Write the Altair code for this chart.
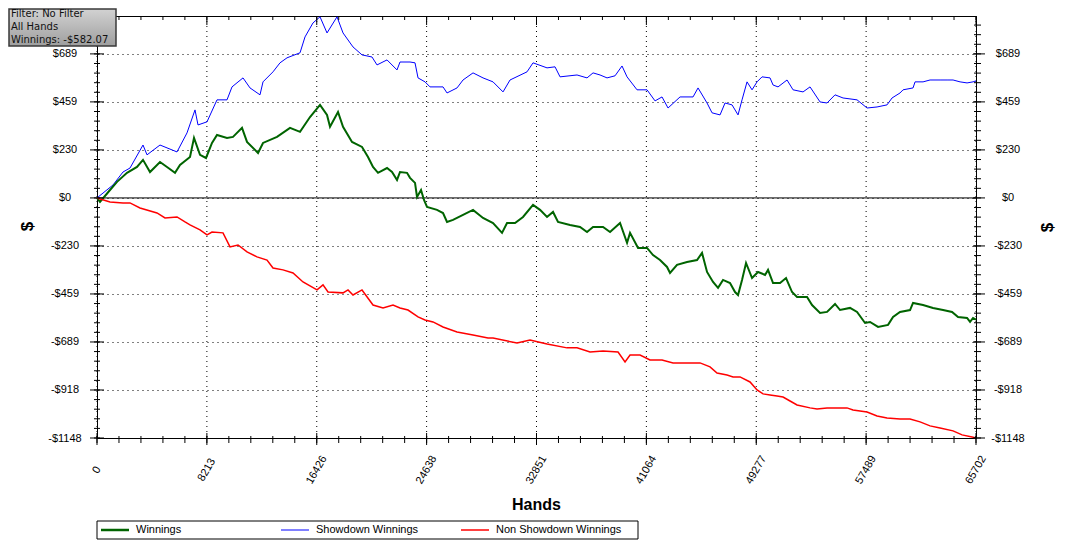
import altair as alt
import pandas as pd

# ---------------- data ----------------
sd_hands = [0, 1196, 1944, 2467, 3439, 3738, 4709, 5980, 6728, 7326, 7550, 8223, 8970, 9718, 10091,
            10914, 11437, 12184, 12409, 13156, 13679, 14203, 15175, 15548, 16146, 16669, 17193, 17940,
            18389, 19136, 19809, 20556, 20930, 21678, 22425, 22649, 23397, 23771, 23995, 24518, 24892,
            25864, 26163, 26910, 27359, 28106, 28854, 29601, 30349, 30872, 32143, 32592, 33638, 34236,
            34610, 35881, 36628, 37077, 37600, 38123, 38721, 39244, 39618, 40365, 41113, 41711, 42234,
            42683, 43580, 44552, 44925, 45598, 45972, 46570, 46944, 47467, 47915, 48214, 48588, 48962,
            49335, 49709, 50307, 50532, 50905, 51578, 52027, 52774, 53297, 54045, 54568, 55166, 55764,
            56811, 57559, 58307, 59052, 59426, 60024, 60249, 60996, 61146, 61744, 62267, 63015, 63538,
            63987, 64510, 65033, 65481, 65702]
sd_vals = [0, 62, 124, 143, 253, 206, 253, 220, 311, 421, 349, 364, 469, 469, 531,
           574, 526, 493, 555, 603, 646, 670, 694, 770, 837, 866, 789, 866,
           789, 722, 684, 674, 636, 660, 612, 650, 650, 646, 574, 555, 531,
           531, 502, 526, 564, 598, 574, 555, 507, 564, 603, 646, 622, 627,
           579, 588, 574, 598, 588, 574, 584, 631, 579, 517, 517, 464, 483,
           430, 483, 483, 526, 454, 407, 397, 454, 445, 397, 469, 555, 517,
           555, 579, 574, 540, 531, 564, 517, 507, 531, 459, 454, 493, 478,
           469, 430, 435, 445, 478, 502, 517, 526, 555, 555, 564, 564, 564,
           564, 555, 550, 555, 560]

win_hands = [0, 224, 972, 1495, 2243, 2990, 3439, 3962, 4709, 5233, 5831, 6204, 6952, 7251, 7700,
             8148, 8596, 8970, 9718, 10166, 10839, 11213, 12035, 12409, 13456, 14427, 15175, 15922,
             16669, 17193, 17417, 18015, 18389, 19062, 19809, 20257, 20631, 21005, 21678, 22052,
             22425, 22649, 23172, 23397, 23771, 23920, 24219, 24443, 24668, 25415, 25864, 26163,
             26611, 27359, 28106, 28854, 29601, 30274, 30648, 31246, 31844, 32592, 33115, 33638,
             34086, 34460, 35357, 36105, 36628, 37077, 37824, 38348, 39095, 39618, 39843, 40441,
             41113, 41561, 42084, 42608, 42832, 43355, 44103, 44850, 45224, 45598, 46047, 46420,
             46794, 47317, 47691, 47915, 48214, 48513, 48962, 49410, 49933, 50157, 50532, 51055,
             51503, 51952, 52326, 53073, 53447, 54045, 54568, 55166, 55540, 56287, 56811, 57409,
             57783, 58381, 59128, 59502, 60024, 60772, 60996, 61744, 62491, 63239, 63912, 64360,
             65033, 65257, 65481, 65702]
win_vals = [0, -19, 38, 77, 120, 148, 182, 124, 172, 148, 120, 158, 196, 287, 206,
            191, 263, 301, 287, 292, 335, 268, 215, 263, 292, 335, 316, 387,
            445, 397, 340, 411, 340, 268, 244, 196, 148, 120, 143, 124,
            86, 124, 120, 96, 72, 5, 38, -10, -43, -57, -72, -115,
            -105, -81, -57, -96, -120, -167, -120, -120, -91, -33, -57, -91,
            -67, -115, -129, -139, -163, -139, -139, -163, -120, -215, -167, -239,
            -239, -273, -297, -330, -359, -320, -306, -297, -263, -354, -402, -430,
            -392, -407, -450, -464, -392, -311, -383, -354, -368, -344, -407, -407,
            -383, -450, -474, -474, -512, -550, -545, -507, -536, -526, -545, -598,
            -593, -617, -607, -569, -545, -536, -502, -512, -526, -536, -545, -569,
            -574, -593, -574, -582]

nsd_hands = [0, 972, 1944, 2467, 3214, 4485, 5083, 5980, 6578, 6952, 7700, 8223, 8596, 9419, 9942,
             10540, 11213, 11960, 12708, 13156, 13904, 14651, 15399, 16445, 16894, 17268, 18389,
             18763, 19136, 19809, 20631, 21379, 22126, 22649, 23247, 23995, 24518, 25116, 25864,
             26910, 28106, 29227, 29601, 31395, 32367, 33638, 35133, 35881, 36853, 37824, 38946,
             39469, 39843, 40590, 41337, 42234, 43056, 44103, 45075, 45822, 46345, 47093, 47542,
             48065, 48812, 49335, 49784, 50307, 50830, 51279, 51802, 52326, 53297, 53820, 54568,
             55315, 56063, 56511, 57559, 58307, 59052, 60024, 60772, 61520, 62267, 63015, 63987,
             64660, 65407, 65702]
nsd_vals = [0, -19, -24, -24, -48, -72, -96, -91, -115, -129, -153, -177, -163, -167, -234,
            -225, -258, -282, -297, -335, -344, -359, -402, -440, -416, -450, -454,
            -440, -464, -440, -512, -526, -512, -526, -536, -569, -584, -593, -617,
            -641, -655, -670, -670, -694, -679, -698, -717, -717, -737, -732, -737,
            -784, -751, -751, -775, -775, -789, -789, -789, -808, -837, -847, -856,
            -856, -880, -918, -937, -942, -947, -952, -971, -990, -1004, -1009, -1004,
            -1004, -1004, -1014, -1024, -1043, -1052, -1057, -1057, -1071, -1090, -1100, -1114,
            -1133, -1143, -1148]

x_ticks = [0, 8213, 16426, 24638, 32851, 41064, 49277, 57489, 65702]
x_tick_labels = ["0", "8213", "16426", "24638", "32851", "41064", "49277", "57489", "65702"]
y_ticks = [-1148, -918.4, -688.8, -459.2, -229.6, 0, 229.6, 459.2, 688.8]
x_max = 65702
y_min, y_max = -1148, 870

series_names = ["Winnings", "Showdown Winnings", "Non Showdown Winnings"]
series_colors = ["#006400", "#0000ff", "#ff0000"]
series_widths = [2, 1, 1.5]

filter_lines = ["Filter: No Filter", "All Hands", "Winnings: -$582.07"]

# ---------------- layout constants ----------------
W, H = 879, 422
FONT = "Liberation Sans"

x_minor = [x_max * i / 40 for i in range(41)]
y_minor = [y_min + 45.92 * k for k in range(44) if y_min + 45.92 * k <= y_max]

x_scale = alt.Scale(domain=[0, x_max], nice=False, zero=False)
y_scale = alt.Scale(domain=[y_min, y_max], nice=False, zero=False)

label_expr = ("datum.value < 0 ? '-$' + format(-datum.value, '.0f') : "
              "'$' + format(datum.value, '.0f')")

y_left = alt.Axis(values=y_ticks, labelExpr=label_expr, orient="left", ticks=False, tickSize=0,
                  domain=False, grid=True, gridDash=[1, 4], gridColor="black", gridOpacity=1,
                  labelAlign="center", labelBaseline="middle", labelPadding=32.5,
                  labelFont=FONT, labelFontSize=11, labelColor="black", labelOverlap=False,
                  labelFlush=False, labelBound=False,
                  title="$", titleFont=FONT, titleFontSize=17, titleFontWeight="bold",
                  titleAngle=270, titleX=-70, titleY=210, titleAlign="center",
                  titleBaseline="middle")

y_right = alt.Axis(values=y_ticks, labelExpr=label_expr, orient="right", ticks=False, tickSize=0,
                   domain=False, grid=False,
                   labelAlign="center", labelBaseline="middle", labelPadding=31.5,
                   labelFont=FONT, labelFontSize=11, labelColor="black", labelOverlap=False,
                   labelFlush=False, labelBound=False,
                   title="$", titleFont=FONT, titleFontSize=17, titleFontWeight="bold",
                   titleAngle=270, titleX=71, titleY=211, titleAlign="center",
                   titleBaseline="middle")


def X(axis=None):
    return alt.X("hand:Q", scale=x_scale, axis=axis)


def Y(axis=None):
    return alt.Y("value:Q", scale=y_scale, axis=axis)


layers = []

# y axes carriers (invisible)
grid_df = pd.DataFrame({"hand": [0], "value": [0]})
layers.append(alt.Chart(grid_df).mark_point(opacity=0).encode(x=X(), y=Y(y_left)))
layers.append(alt.Chart(grid_df).mark_point(opacity=0).encode(x=X(), y=Y(y_right)))

# vertical dotted grid + x labels + x title
xmaj = pd.DataFrame({"hand": x_ticks, "label": x_tick_labels})
layers.append(alt.Chart(xmaj).mark_rule(color="black", strokeWidth=1, strokeDash=[1, 4])
              .encode(x=X(), y=alt.value(0), y2=alt.value(H)))
layers.append(alt.Chart(xmaj).mark_text(angle=300, align="center", baseline="middle", font=FONT,
                                        fontSize=11, color="black")
              .encode(x=X(), y=alt.value(H + 32), text="label:N"))
one = pd.DataFrame({"a": [0]})
layers.append(alt.Chart(one).mark_text(text="Hands", align="center", baseline="middle", font=FONT,
                                       fontSize=16, fontWeight="bold", color="black")
              .encode(x=alt.value(W / 2), y=alt.value(489)))

# zero line
layers.append(alt.Chart(pd.DataFrame({"value": [0]})).mark_rule(color="black", strokeWidth=1)
              .encode(y=Y(), x=alt.value(0), x2=alt.value(W)))

# series lines
data_sets = {
    "Showdown Winnings": (sd_hands, sd_vals),
    "Winnings": (win_hands, win_vals),
    "Non Showdown Winnings": (nsd_hands, nsd_vals),
}
for name in ["Showdown Winnings", "Winnings", "Non Showdown Winnings"]:
    i = series_names.index(name)
    hs, vs = data_sets[name]
    df = pd.DataFrame({"hand": hs, "value": vs})
    layers.append(alt.Chart(df).mark_line(color=series_colors[i], strokeWidth=series_widths[i])
                  .encode(x=X(), y=Y()))

# manual ticks
ymaj = pd.DataFrame({"value": y_ticks})
ymin_df = pd.DataFrame({"value": y_minor})
xmin_df = pd.DataFrame({"hand": x_minor})
tick = dict(color="black", strokeWidth=1)
layers += [
    alt.Chart(ymaj).mark_rule(**tick).encode(y=Y(), x=alt.value(-7), x2=alt.value(7)),
    alt.Chart(ymin_df).mark_rule(**tick).encode(y=Y(), x=alt.value(-3), x2=alt.value(3)),
    alt.Chart(ymaj).mark_rule(**tick).encode(y=Y(), x=alt.value(W - 3), x2=alt.value(W + 9)),
    alt.Chart(ymin_df).mark_rule(**tick).encode(y=Y(), x=alt.value(W - 2), x2=alt.value(W + 5)),
    alt.Chart(xmaj).mark_rule(**tick).encode(x=X(), y=alt.value(H - 5), y2=alt.value(H + 7)),
    alt.Chart(xmin_df).mark_rule(**tick).encode(x=X(), y=alt.value(H - 2), y2=alt.value(H + 5)),
    alt.Chart(xmaj).mark_rule(**tick).encode(x=X(), y=alt.value(0), y2=alt.value(9)),
    alt.Chart(xmin_df).mark_rule(**tick).encode(x=X(), y=alt.value(0), y2=alt.value(4)),
]

# legend box
layers.append(alt.Chart(one).mark_rect(fill="white", stroke="black", strokeWidth=1)
              .encode(x=alt.value(0), x2=alt.value(541), y=alt.value(505), y2=alt.value(523)))
for i, name in enumerate(series_names):
    x0 = 4 + 180 * i
    layers.append(alt.Chart(one).mark_rule(color=series_colors[i],
                                           strokeWidth=series_widths[i] + (0.5 if i == 0 else 0))
                  .encode(x=alt.value(x0), x2=alt.value(x0 + 28), y=alt.value(514)))
    layers.append(alt.Chart(one).mark_text(text=name, align="left", baseline="middle", font=FONT,
                                           fontSize=11, color="black")
                  .encode(x=alt.value(x0 + 35), y=alt.value(514)))

# filter info box
grad = alt.Gradient(gradient="linear", x1=0, x2=0, y1=0, y2=1,
                    stops=[alt.GradientStop(color="#d2d2d2", offset=0),
                           alt.GradientStop(color="#9e9e9e", offset=1)])
layers.append(alt.Chart(one).mark_rect(fill=grad, stroke="#3a3a3a", strokeWidth=1.5)
              .encode(x=alt.value(-88), x2=alt.value(19), y=alt.value(-7), y2=alt.value(30)))
for j, line in enumerate(filter_lines):
    layers.append(alt.Chart(one).mark_text(text=line, align="left", baseline="alphabetic",
                                           font="DejaVu Sans", fontSize=10, color="#111111")
                  .encode(x=alt.value(-86), y=alt.value(1 + 13 * j)))

chart = (alt.layer(*layers)
         .resolve_scale(y="shared", x="shared")
         .resolve_axis(y="independent")
         .properties(width=W, height=H,
                     autosize=alt.AutoSizeParams(type="none"),
                     padding={"left": 89, "top": 8, "right": 92, "bottom": 108},
                     background="white")
         .configure_view(stroke="black", strokeWidth=1))

chart.save("out.html", embed_options={"renderer": "svg", "actions": False})
